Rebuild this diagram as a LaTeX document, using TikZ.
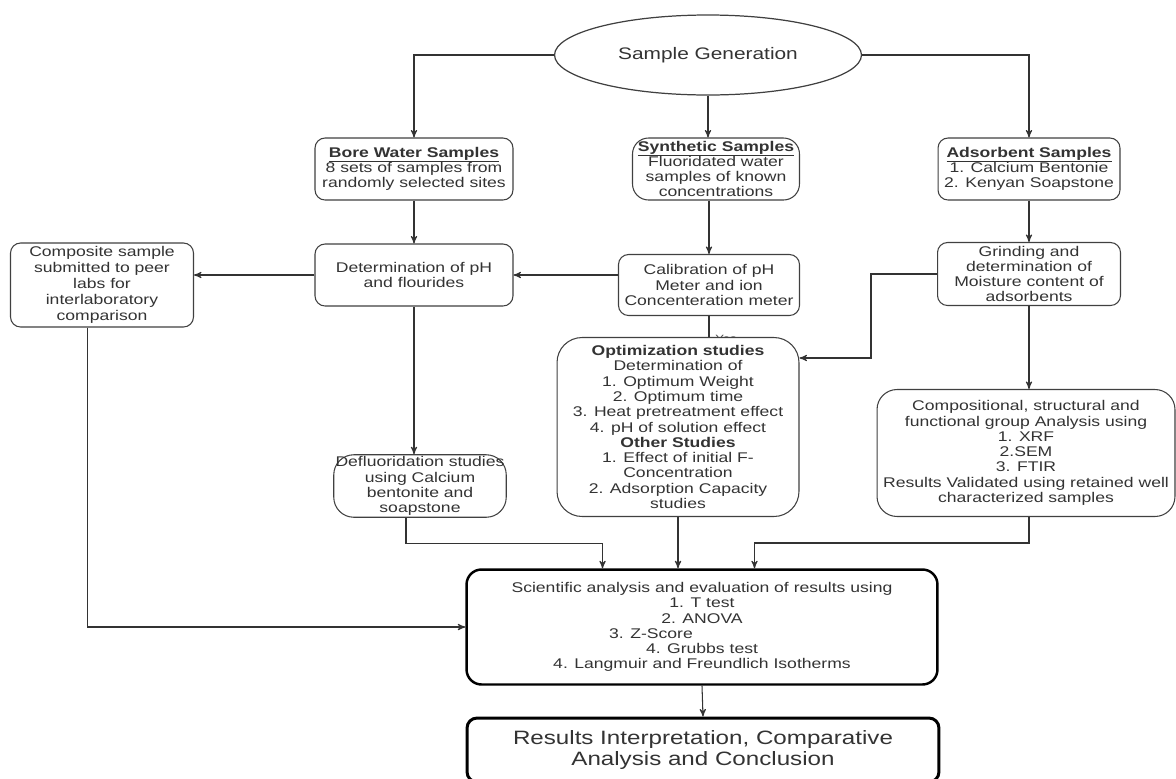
\documentclass[tikz,border=0pt]{standalone}
\usepackage{fontspec}
\setmainfont[FakeStretch=1.25]{Liberation Sans}
\usetikzlibrary{arrows}
\usetikzlibrary{shapes.geometric}

\newcommand\ulhead[1]{\leavevmode\vtop{\hbox{\textbf{#1}}\kern0.6pt\hrule height0.5pt}}
\tikzset{
 box/.style={draw=black!75, line width=0.6pt, rounded corners=0.2cm, fill=white, align=center, inner sep=1pt, text=black!80, font=\fontsize{8}{8.7}\selectfont},
 bigbox/.style={box, draw=black, line width=1.4pt},
 link/.style={black!80, line width=0.6pt, ->, >=stealth'},
}

\begin{document}
\begin{tikzpicture}[x=0.02cm, y=-0.02cm]
\useasboundingbox (0,0) rectangle (1176,778);
\clip (0,0) rectangle (1176,778);
\node[ellipse, draw=black!75, line width=0.7pt, minimum width=6.14cm, minimum height=1.6cm, text=black!80, font=\fontsize{9.5}{11}\selectfont] (gen) at (708,55) {Sample Generation};
\node[box, minimum width=3.96cm, minimum height=1.24cm] (bore) at (414,169) {\ulhead{Bore Water Samples}\\8 sets of samples from\\randomly selected sites};
\node[box, rounded corners=0.32cm, minimum width=3.34cm, minimum height=1.24cm] (synth) at (716,169) {\ulhead{Synthetic Samples}\\Fluoridated water\\samples of known\\concentrations};
\node[box, minimum width=3.64cm, minimum height=1.24cm] (adsorb) at (1029,169) {\ulhead{Adsorbent Samples}\\1. Calcium Bentonie\\2. Kenyan Soapstone};
\node[box, minimum width=3.66cm, minimum height=1.68cm, font=\fontsize{8}{9.2}\selectfont] (comp) at (102,285) {Composite sample\\submitted to peer\\labs for\\interlaboratory\\comparison};
\node[box, minimum width=3.96cm, minimum height=1.24cm] (det) at (414,275) {Determination of pH\\and flourides};
\node[box, minimum width=3.62cm, minimum height=1.22cm] (calib) at (709,285) {Calibration of pH\\Meter and ion\\Concenteration meter};
\node[box, minimum width=3.66cm, minimum height=1.26cm] (grind) at (1029,274) {Grinding and\\determination of\\Moisture content of\\adsorbents};
\node[font=\fontsize{6}{6}\selectfont, text=black!70] (yes) at (726,339) {Yes};
\node[box, rounded corners=0.5cm, minimum width=4.84cm, minimum height=3.58cm] (opt) at (678,427) {\textbf{Optimization studies}\\Determination of\\1. Optimum Weight\\2. Optimum time\\3. Heat pretreatment effect\\4. pH of solution effect\\\textbf{Other Studies}\\1. Effect of initial F-\\Concentration\\2. Adsorption Capacity\\studies};
\node[box, rounded corners=0.4cm, minimum width=5.96cm, minimum height=2.54cm] (compo) at (1026,453) {Compositional, structural and\\functional group Analysis using\\1. XRF\\2.SEM\\3. FTIR\\Results Validated using retained well\\characterized samples};
\node[box, rounded corners=0.4cm, minimum width=3.1cm, minimum height=1.24cm] (defl) at (420,486) {Defluoridation studies\\using Calcium\\bentonite and\\soapstone};
\node[bigbox, rounded corners=0.3cm, minimum width=9.42cm, minimum height=2.3cm] (sci) at (702,627) {Scientific analysis and evaluation of results using\\1. T test\\2. ANOVA\\3. Z-Score\rule{2.04cm}{0pt}\\4. Grubbs test\\4. Langmuir and Freundlich Isotherms};
\node[bigbox, line width=1.7pt, minimum width=9.44cm, minimum height=1.28cm, font=\fontsize{11}{11.4}\selectfont] (res) at (703,750) {Results Interpretation, Comparative\\Analysis and Conclusion};
\coordinate (gbend) at (871,358);
\draw[link] (gen.west) -| (bore.north);
\draw[link] (gen.south) -- (gen.south |- synth.north);
\draw[link] (gen.east) -| (adsorb.north);
\draw[link] (bore.south) -- (det.north);
\draw[link] (calib.north |- synth.south) -- (calib.north);
\draw[link] (adsorb.south) -- (grind.north);
\draw[link] (calib.west |- det.east) -- (det.east);
\draw[link] (det.west) -- (det.west -| comp.east);
\draw[black!80, line width=0.6pt] (calib.south) -- (calib.south |- opt.north);
\draw[link] (grind.west) -| (gbend) -- (gbend -| opt.east);
\draw[link] (grind.south) -- (grind.south |- compo.north);
\draw[link] (det.south) -- (det.south |- defl.north);
\draw[link] ([xshift=-0.29cm]comp.south) |- (sci.west);
\draw[link] ([xshift=-0.28cm]defl.south) -- ++(0,26) -| ([xshift=-1.99cm]sci.north);
\draw[link] (opt.south) -- (opt.south |- sci.north);
\draw[link] ([xshift=0.06cm]compo.south) -- ++(0,26) -| ([xshift=1.05cm]sci.north);
\draw[link] (sci.south) -- (res.north);
\end{tikzpicture}
\end{document}
